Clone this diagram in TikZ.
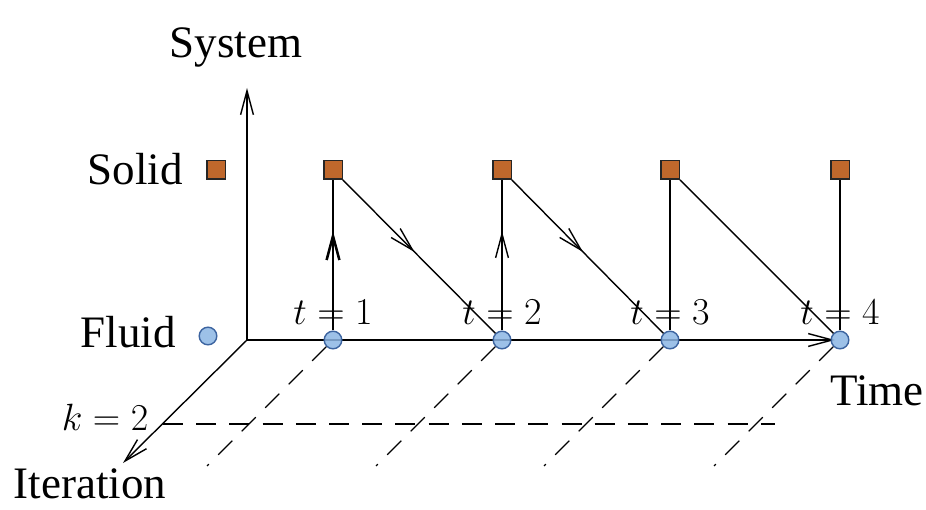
\documentclass[tikz,border=0pt]{standalone}
\usepackage{fix-cm}
\usepackage{amsmath,amssymb}
\usepackage{fontspec}
\setmainfont{Liberation Serif}
\usepackage{tikz}
\usetikzlibrary{arrows.meta,decorations.markings}

\definecolor{solidcol}{RGB}{192,104,44}
\definecolor{fluidcol}{RGB}{140,182,228}
\definecolor{fluidedge}{RGB}{60,100,160}

\begin{document}
\begin{tikzpicture}[x=0.025cm,y=-0.025cm,line width=1pt,
  txt/.style={font=\fontsize{32}{38}\selectfont,anchor=base},
  mtxt/.style={font=\fontsize{27}{32}\selectfont,anchor=base},
  solidbox/.style={draw=black!85,fill=solidcol,minimum size=0.46cm,inner sep=0pt},
  fluiddot/.style={circle,draw=fluidedge,fill=fluidcol,fill opacity=0.85,minimum size=0.44cm,inner sep=0pt},
  axis/.style={-{Straight Barb[length=0.6cm,width=0.32cm]}},
  midarrow/.style={postaction={decorate},decoration={markings,
    mark=at position #1 with {\arrow{Straight Barb[length=0.6cm,width=0.32cm]}}}},
  iter/.style={dash pattern=on 0.5cm off 0.33cm,line width=0.8pt}]

\useasboundingbox (0,0) rectangle (926,510);

% Axes
\coordinate (O) at (247,340);
\coordinate (sysend) at (247,88);
\coordinate (timeend) at (835,340);
\coordinate (iterend) at (123,463);
\draw[axis] (O) -- (sysend);
\draw[axis] (O) -- (timeend);
\draw[axis] (O) -- (iterend);

% Axis labels
\node[txt] (lsys) at (236,58) {System};
\node[txt] (ltime) at (877,405) {Time};
\node[txt] (liter) at (90,498) {Iteration};

% Legend
\node[txt] (lsolid) at (135,185) {Solid};
\node[txt] (lfluid) at (128,348) {Fluid};
\node[solidbox] (s0) at (216,170) {};
\node[fluiddot] (f0) at (208,336) {};

% Iteration k = 2
\node[mtxt] (lk) at (105,430) {$k=2$};
\coordinate (k0) at (163,424);
\coordinate (k1) at (775,424);
\draw[iter] (k0) -- (k1);

% Time steps
\foreach \i/\x in {1/333,2/502,3/670,4/840}{
  \node[mtxt] (t\i) at (\x,325) {$t=\i$};
  \coordinate (d\i) at ({\x-126},466);
  \node[solidbox] (s\i) at (\x,170) {};
  \node[fluiddot] (f\i) at (\x,340) {};
  \draw[iter] (f\i) -- (d\i);
}

% Fluid to solid
\draw[line width=1.8pt,midarrow=0.66] (f1) -- (s1);
\draw[midarrow=0.66] (f2) -- (s2);
\draw (f3) -- (s3);
\draw (f4) -- (s4);

% Solid to next fluid
\draw[midarrow=0.47] (s1) -- (f2);
\draw[midarrow=0.47] (s2) -- (f3);
\draw (s3) -- (f4);

\end{tikzpicture}
\end{document}
